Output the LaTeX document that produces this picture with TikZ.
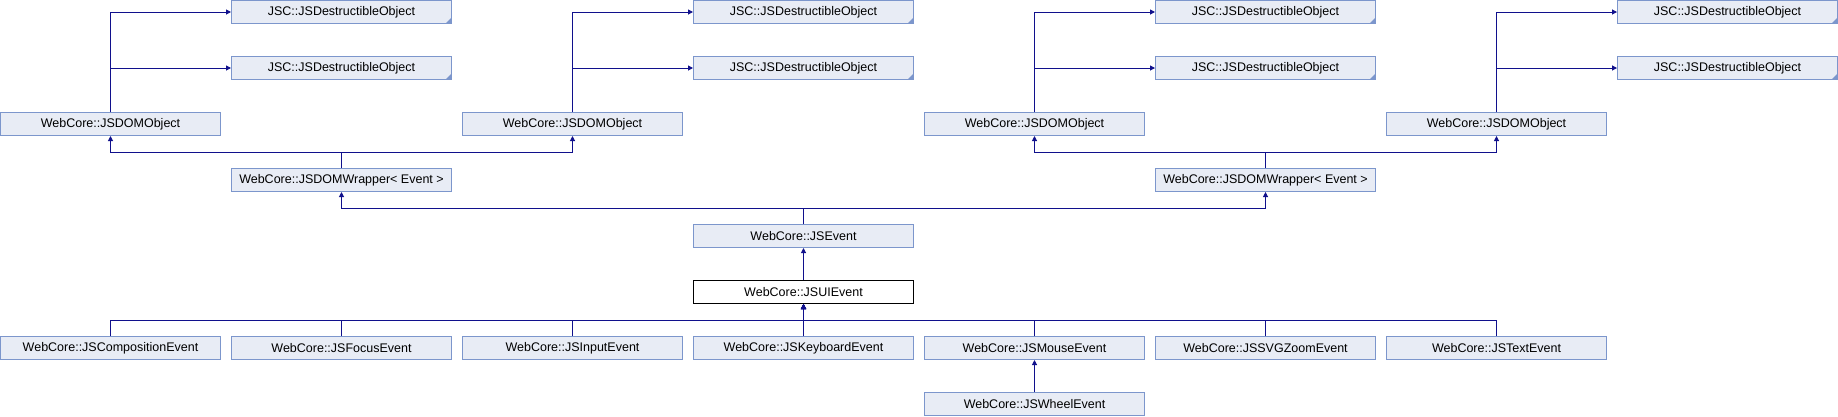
\documentclass[tikz,border=0pt]{standalone}
\usepackage{fontspec}
\setmainfont{Liberation Sans}
\usetikzlibrary{arrows.meta,calc}
\definecolor{edgec}{RGB}{16,16,140}
\definecolor{boxfill}{RGB}{232,236,245}
\definecolor{boxdraw}{RGB}{124,150,204}
\begin{document}
\begin{tikzpicture}[x=1pt,y=-1pt,
  cls/.style={draw=boxdraw, fill=boxfill, line width=1pt, minimum width=220pt, minimum height=23pt, inner sep=0pt, anchor=north west, font=\fontsize{12.5}{14}\selectfont},
  cur/.style={cls, draw=black, fill=white},
  arr/.style={draw=edgec, line width=1pt, -{Triangle[length=5pt,width=5pt]}}]
\useasboundingbox (0,0) rectangle (1838,416);
% row 0 and 1: JSDestructibleObject
\foreach \c/\n in {1/a,3/b,5/c,7/d}{
  \node[cls] (jsd\n0) at ({231*\c},0) {JSC::JSDestructibleObject};
  \node[cls] (jsd\n1) at ({231*\c},56) {JSC::JSDestructibleObject};
}
% row 2: JSDOMObject
\foreach \c/\n in {0/a,2/b,4/c,6/d}{
  \node[cls] (dom\n) at ({231*\c},112) {WebCore::JSDOMObject};
}
% row 3: wrappers
\node[cls] (wrapa) at (231,168) {WebCore::JSDOMWrapper< Event >};
\node[cls] (wrapb) at (1155,168) {WebCore::JSDOMWrapper< Event >};
% row 4,5
\node[cls] (jsevent) at (693,224) {WebCore::JSEvent};
\node[cur] (uievent) at (693,280) {WebCore::JSUIEvent};
% row 6
\node[cls] (comp) at (0,336) {WebCore::JSCompositionEvent};
\node[cls] (focus) at (231,336) {WebCore::JSFocusEvent};
\node[cls] (input) at (462,336) {WebCore::JSInputEvent};
\node[cls] (keyb) at (693,336) {WebCore::JSKeyboardEvent};
\node[cls] (mouse) at (924,336) {WebCore::JSMouseEvent};
\node[cls] (svgz) at (1155,336) {WebCore::JSSVGZoomEvent};
\node[cls] (text) at (1386,336) {WebCore::JSTextEvent};
% row 7
\node[cls] (wheel) at (924,392) {WebCore::JSWheelEvent};
% truncation marks
\foreach \n in {jsda0,jsda1,jsdb0,jsdb1,jsdc0,jsdc1,jsdd0,jsdd1}{
  \fill[boxdraw] ($(\n.south east)+(-1,-1)$) -- ++(0,-5) -- ++(-5,5) -- cycle;
}
% edges DOMObject -> JSDestructibleObject
\foreach \n in {a,b,c,d}{
  \draw[arr] (dom\n.north) |- (jsd\n0.west);
  \draw[arr] (dom\n.north) |- (jsd\n1.west);
}
% wrappers -> DOMObject
\draw[arr] (wrapa.north) -- ++(0,-16) -| (doma.south);
\draw[arr] (wrapa.north) -- ++(0,-16) -| (domb.south);
\draw[arr] (wrapb.north) -- ++(0,-16) -| (domc.south);
\draw[arr] (wrapb.north) -- ++(0,-16) -| (domd.south);
% JSEvent -> wrappers
\draw[arr] (jsevent.north) -- ++(0,-16) -| (wrapa.south);
\draw[arr] (jsevent.north) -- ++(0,-16) -| (wrapb.south);
% UIEvent -> JSEvent
\draw[arr] (uievent.north) -- (jsevent.south);
% children -> UIEvent
\foreach \n in {comp,focus,input,keyb,mouse,svgz,text}{
  \draw[arr] (\n.north) -- ++(0,-16) -| (uievent.south);
}
% wheel -> mouse
\draw[arr] (wheel.north) -- (mouse.south);
\end{tikzpicture}
\end{document}
